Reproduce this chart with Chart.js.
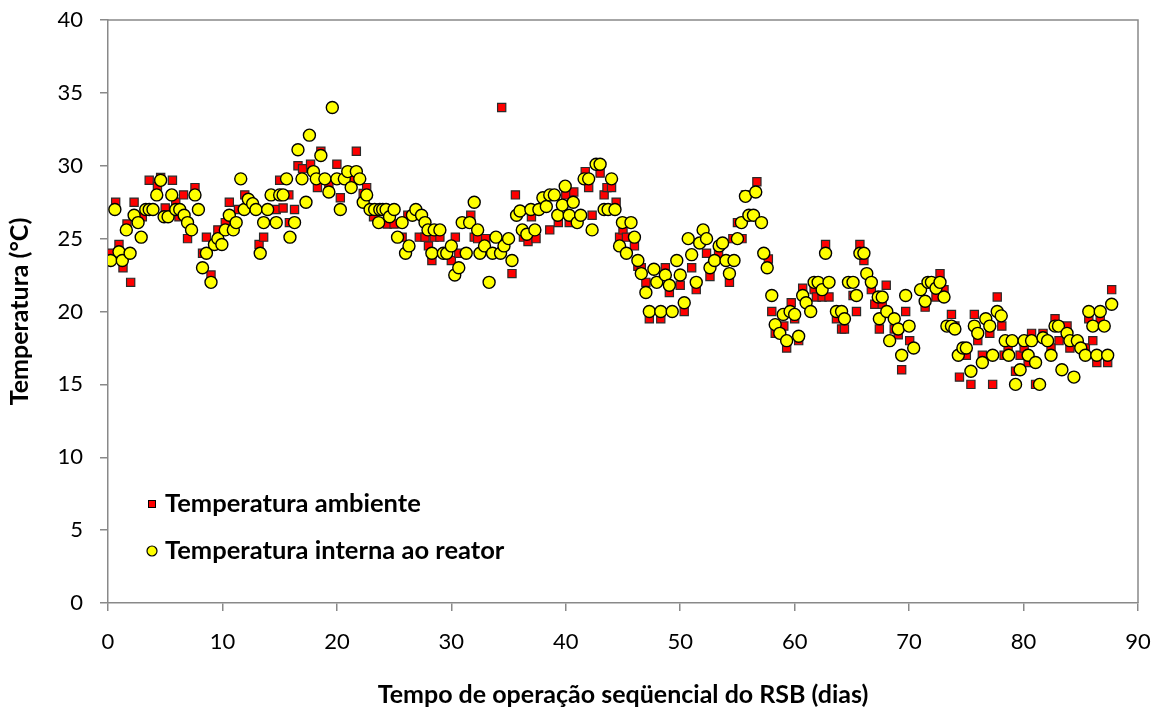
<!DOCTYPE html>
<html lang="pt">
<head>
<meta charset="utf-8">
<title>Temperatura RSB</title>
<script src="https://cdn.jsdelivr.net/npm/chart.js@4.4.1/dist/chart.umd.min.js"></script>
<style>
    html, body { margin: 0; padding: 0; background: #fff; }
    #grafico { display: block; }
</style>
</head>
<body>
<canvas id="grafico" width="1161" height="713"></canvas>
<script>
// Temperatura ambiente (quadrados vermelhos)
const diasAmbiente = [
    0.3, 0.67, 0.96, 1.31, 1.66, 1.98, 2.28, 3.0, 3.6, 4.32,
    4.6, 5.0, 5.63, 5.92, 6.2, 6.6, 6.95, 7.6, 8.26, 8.6,
    9.0, 9.6, 10.25, 10.6, 11.0, 11.4, 11.95, 13.2, 13.6, 14.7,
    15.0, 15.3, 15.8, 15.85, 16.3, 16.6, 17.0, 17.7, 18.3, 18.6,
    19.3, 20.0, 20.3, 21.3, 21.7, 22.3, 22.6, 23.2, 24.4, 25.0,
    25.7, 26.2, 27.2, 27.7, 28.0, 28.3, 28.5, 29.0, 30.0, 30.35,
    30.65, 31.7, 32.0, 32.3, 33.0, 34.4, 35.3, 35.6, 36.3, 36.7,
    37.0, 37.4, 38.6, 39.35, 40.0, 40.3, 40.7, 41.7, 42.0, 42.3,
    43.0, 43.35, 43.6, 44.0, 44.4, 44.7, 45.0, 45.3, 46.0, 46.3,
    46.6, 47.0, 47.3, 48.3, 48.7, 49.05, 50.0, 50.35, 51.0, 51.4,
    52.3, 52.6, 53.35, 54.3, 54.6, 55.0, 55.4, 55.7, 56.7, 57.7,
    58.0, 58.3, 59.05, 59.3, 59.7, 60.0, 60.35, 60.7, 61.7, 61.9,
    62.4, 62.7, 63.0, 63.65, 64.1, 64.35, 65.1, 65.4, 65.7, 66.05,
    66.7, 67.0, 67.4, 67.65, 68.0, 68.7, 69.05, 69.35, 69.7, 70.05,
    71.4, 72.35, 72.7, 73.05, 73.7, 74.0, 74.4, 75.0, 75.4, 75.7,
    76.0, 76.4, 77.05, 77.3, 77.7, 78.1, 78.3, 78.65, 79.3, 79.7,
    80.05, 80.4, 80.7, 81.05, 81.7, 82.4, 82.75, 83.1, 83.8, 84.05,
    85.4, 85.7, 86.05, 86.4, 86.7, 87.35, 87.7
];
const tempAmbiente = [
    24.0, 27.5, 24.6, 23.0, 26.0, 22.0, 27.5, 26.5, 29.0, 28.6,
    29.2, 27.1, 29.0, 27.5, 26.5, 28.0, 25.0, 28.5, 24.0, 25.1,
    22.5, 25.6, 26.1, 27.5, 26.1, 27.0, 28.0, 24.6, 25.1, 27.0,
    29.0, 27.1, 28.0, 26.1, 27.0, 30.0, 29.8, 30.1, 28.5, 31.0,
    28.7, 30.1, 27.8, 29.1, 31.0, 28.1, 28.5, 26.5, 26.0, 26.0,
    25.1, 26.6, 25.1, 25.1, 24.5, 23.5, 25.1, 25.1, 23.5, 25.1,
    24.0, 26.6, 25.1, 25.0, 25.0, 34.0, 22.6, 28.0, 25.1, 24.8,
    26.5, 25.0, 25.6, 26.1, 28.0, 26.1, 28.2, 29.6, 28.5, 26.6,
    29.5, 28.0, 28.5, 28.5, 27.5, 25.1, 25.6, 25.1, 24.5, 23.1,
    23.0, 22.0, 19.5, 19.5, 23.0, 21.3, 21.8, 20.0, 23.0, 21.5,
    24.0, 22.4, 24.0, 22.0, 25.0, 26.1, 25.0, 28.0, 28.9, 23.6,
    20.0, 18.5, 19.0, 17.5, 20.6, 19.5, 18.0, 21.6, 21.5, 21.0,
    21.0, 24.6, 21.0, 19.5, 18.8, 18.8, 21.1, 20.0, 24.6, 23.5,
    21.5, 20.5, 18.8, 20.5, 21.8, 18.8, 18.4, 16.0, 20.0, 18.0,
    20.3, 21.0, 22.6, 21.5, 19.8, 19.0, 15.5, 17.0, 15.0, 19.8,
    18.0, 17.0, 18.5, 15.0, 21.0, 19.0, 17.0, 17.5, 15.9, 17.0,
    17.5, 16.5, 18.5, 15.0, 18.5, 17.5, 19.5, 18.0, 19.0, 17.5,
    17.5, 19.5, 18.0, 16.5, 19.5, 16.5, 21.5
];

// Temperatura interna ao reator (círculos amarelos)
const diasReator = [
    0.24, 0.6, 0.96, 1.25, 1.6, 1.93, 2.28, 2.63, 2.9, 3.3,
    3.6, 3.93, 4.26, 4.6, 4.9, 5.25, 5.57, 5.92, 6.27, 6.65,
    6.95, 7.3, 7.6, 7.9, 8.26, 8.6, 9.0, 9.3, 9.6, 9.95,
    10.25, 10.6, 10.95, 11.2, 11.6, 11.9, 12.26, 12.64, 12.93, 13.3,
    13.6, 13.95, 14.25, 14.7, 15.0, 15.3, 15.6, 15.9, 16.3, 16.6,
    16.95, 17.3, 17.6, 17.95, 18.2, 18.6, 18.95, 19.3, 19.6, 20.0,
    20.3, 20.65, 20.95, 21.25, 21.7, 22.0, 22.3, 22.6, 22.9, 23.3,
    23.65, 23.75, 24.0, 24.3, 24.6, 25.0, 25.3, 25.7, 26.0, 26.3,
    26.6, 26.9, 27.4, 27.7, 27.96, 28.3, 28.5, 29.0, 29.3, 29.6,
    30.0, 30.3, 30.65, 30.95, 31.3, 31.6, 32.0, 32.3, 32.5, 32.9,
    33.3, 33.6, 33.9, 34.3, 34.6, 35.0, 35.3, 35.7, 36.0, 36.2,
    36.6, 36.95, 37.3, 37.65, 38.0, 38.3, 38.6, 39.0, 39.3, 39.7,
    39.95, 40.3, 40.65, 41.0, 41.3, 41.6, 42.0, 42.3, 42.65, 43.0,
    43.35, 43.7, 44.0, 44.3, 44.7, 44.95, 45.3, 45.7, 46.0, 46.3,
    46.6, 47.0, 47.3, 47.7, 47.95, 48.3, 48.7, 49.05, 49.3, 49.7,
    50.0, 50.35, 50.7, 51.0, 51.4, 51.7, 52.0, 52.3, 52.6, 53.0,
    53.4, 53.7, 54.0, 54.3, 54.7, 55.0, 55.35, 55.7, 56.0, 56.4,
    56.6, 57.1, 57.3, 57.6, 58.0, 58.3, 58.7, 59.0, 59.3, 59.6,
    60.0, 60.35, 60.7, 61.0, 61.4, 61.7, 62.05, 62.4, 62.7, 63.0,
    63.65, 64.1, 64.35, 64.7, 65.1, 65.4, 65.7, 66.05, 66.3, 66.7,
    67.3, 67.4, 67.65, 68.05, 68.3, 68.7, 69.05, 69.35, 69.7, 70.0,
    70.4, 71.0, 71.4, 71.65, 71.95, 72.35, 72.7, 73.05, 73.3, 73.7,
    74.0, 74.3, 74.7, 75.0, 75.4, 75.7, 76.0, 76.4, 76.7, 77.05,
    77.3, 77.7, 78.05, 78.4, 78.7, 79.0, 79.3, 79.7, 80.05, 80.4,
    80.7, 81.05, 81.4, 81.7, 82.1, 82.4, 82.75, 83.05, 83.35, 83.8,
    84.05, 84.4, 84.7, 85.0, 85.4, 85.7, 86.05, 86.4, 86.7, 87.05,
    87.35, 87.7
];
const tempReator = [
    23.5, 27.0, 24.1, 23.5, 25.6, 24.0, 26.6, 26.1, 25.1, 27.0,
    27.0, 27.0, 28.0, 29.0, 26.5, 26.5, 28.0, 27.0, 27.0, 26.6,
    26.1, 25.6, 28.0, 27.0, 23.0, 24.0, 22.0, 24.6, 25.0, 24.6,
    25.6, 26.6, 25.6, 26.1, 29.1, 27.0, 27.7, 27.4, 27.0, 24.0,
    26.1, 27.0, 28.0, 26.1, 28.0, 28.0, 29.1, 25.1, 26.1, 31.1,
    29.1, 27.5, 32.1, 29.6, 29.1, 30.7, 29.1, 28.2, 34.0, 29.1,
    27.0, 29.1, 29.6, 28.5, 29.6, 29.1, 27.5, 28.0, 27.0, 27.0,
    26.1, 27.0, 27.0, 27.0, 26.5, 27.0, 25.1, 26.1, 24.0, 24.5,
    26.6, 27.0, 26.6, 26.1, 25.6, 24.0, 25.6, 25.6, 24.0, 24.0,
    24.5, 22.5, 23.0, 26.1, 24.0, 26.1, 27.5, 25.6, 24.0, 24.5,
    22.0, 24.0, 25.1, 24.0, 24.5, 25.0, 23.5, 26.6, 26.9, 25.6,
    25.3, 27.0, 25.6, 27.0, 27.8, 27.2, 28.0, 28.0, 26.6, 27.3,
    28.6, 26.6, 27.5, 26.1, 26.6, 29.1, 29.1, 25.6, 30.1, 30.1,
    27.0, 27.0, 29.1, 27.0, 24.5, 26.1, 24.0, 26.1, 25.1, 23.5,
    22.6, 21.3, 20.0, 22.9, 22.0, 20.0, 22.5, 21.8, 20.0, 23.5,
    22.5, 20.6, 25.0, 23.9, 22.0, 24.7, 25.6, 25.0, 23.0, 23.5,
    24.5, 24.7, 23.5, 22.6, 23.5, 25.0, 26.1, 27.9, 26.6, 26.6,
    28.2, 26.1, 24.0, 23.0, 21.1, 19.1, 18.5, 19.8, 18.0, 20.0,
    19.8, 18.3, 21.1, 20.6, 20.0, 22.0, 22.0, 21.5, 24.0, 22.0,
    20.0, 20.0, 19.5, 22.0, 22.0, 21.1, 24.0, 24.0, 22.6, 22.0,
    21.0, 19.5, 21.0, 20.0, 18.0, 19.5, 18.8, 17.0, 21.1, 19.0,
    17.5, 21.5, 20.7, 22.0, 22.0, 21.6, 22.0, 21.0, 19.0, 19.0,
    18.8, 17.0, 17.5, 17.5, 15.9, 19.0, 18.5, 16.5, 19.5, 19.0,
    17.0, 20.0, 19.7, 18.0, 17.0, 18.0, 15.0, 16.0, 18.0, 17.0,
    18.0, 16.5, 15.0, 18.2, 18.0, 17.0, 19.0, 19.0, 16.0, 18.5,
    18.0, 15.5, 18.0, 17.5, 17.0, 20.0, 19.0, 17.0, 20.0, 19.0,
    17.0, 20.5
];

// Eixos
const xMin = 0, xMax = 90, xPasso = 10;
const yMin = 0, yMax = 40, yPasso = 5;
const nomesSeries = ['Temperatura ambiente', 'Temperatura interna ao reator'];

const fonte = "Lato, 'Liberation Sans', sans-serif";
const corEixo = '#898989';

function pares(xs, ys) {
    return xs.map((x, i) => ({ x: x, y: ys[i] }));
}

// Moldura do gráfico + legenda dentro da área
const molduraLegenda = {
    id: 'molduraLegenda',
    afterDraw(chart) {
        const ctx = chart.ctx;
        const a = chart.chartArea;
        ctx.save();
        ctx.strokeStyle = corEixo;
        ctx.lineWidth = 1.5;
        ctx.beginPath();
        ctx.moveTo(a.left, a.top);
        ctx.lineTo(a.right, a.top);
        ctx.lineTo(a.right, a.bottom);
        ctx.stroke();

        const lx = a.left + 44;
        const ly1 = a.top + 484;
        const ly2 = a.top + 531;
        ctx.lineWidth = 1;
        ctx.strokeStyle = '#000';
        ctx.fillStyle = '#ff0000';
        ctx.fillRect(lx - 3.5, ly1 - 3.5, 7, 7);
        ctx.strokeRect(lx - 3.5, ly1 - 3.5, 7, 7);
        ctx.beginPath();
        ctx.arc(lx, ly2, 5, 0, Math.PI * 2);
        ctx.fillStyle = '#ffff00';
        ctx.fill();
        ctx.lineWidth = 1.2;
        ctx.stroke();

        ctx.fillStyle = '#000';
        ctx.font = 'bold 25.5px ' + fonte;
        ctx.textBaseline = 'middle';
        ctx.textAlign = 'left';
        ctx.fillText(nomesSeries[0], lx + 13, ly1);
        ctx.fillText(nomesSeries[1], lx + 13, ly2);
        ctx.restore();
    }
};

document.addEventListener('DOMContentLoaded', function() {
    const ctx = document.getElementById('grafico').getContext('2d');

    new Chart(ctx, {
        type: 'scatter',
        data: {
            datasets: [{
                label: nomesSeries[0],
                data: pares(diasAmbiente, tempAmbiente),
                pointStyle: 'rect',
                pointRadius: 5.8,
                backgroundColor: '#ff0000',
                borderColor: '#2a2a2a',
                borderWidth: 1.2,
                order: 1
            }, {
                label: nomesSeries[1],
                data: pares(diasReator, tempReator),
                pointStyle: 'circle',
                pointRadius: 6,
                backgroundColor: '#ffff00',
                borderColor: '#000',
                borderWidth: 1.4,
                order: 0
            }]
        },
        options: {
            responsive: false,
            animation: false,
            devicePixelRatio: 1,
            layout: { padding: { top: 20, right: 23, left: 0, bottom: 0 } },
            plugins: {
                legend: { display: false },
                tooltip: { enabled: false }
            },
            scales: {
                x: {
                    type: 'linear',
                    min: xMin,
                    max: xMax,
                    afterFit: function(s) {
                        s.height = 110;
                        s.paddingLeft = 0;
                        s.paddingRight = 0;
                    },
                    ticks: {
                        stepSize: xPasso,
                        color: '#000',
                        padding: 18,
                        font: { family: fonte, size: 22 }
                    },
                    grid: { drawOnChartArea: false, drawTicks: true, tickLength: 8, color: corEixo, lineWidth: 1.5 },
                    border: { display: true, color: corEixo, width: 1.5 },
                    title: {
                        display: true,
                        text: 'Tempo de operação seqüencial do RSB (dias)',
                        color: '#000',
                        font: { family: fonte, size: 25, weight: 'bold' },
                        padding: { top: 0, bottom: 3 }
                    }
                },
                y: {
                    min: yMin,
                    max: yMax,
                    afterFit: function(s) {
                        s.width = 108;
                        s.paddingTop = 0;
                        s.paddingBottom = 0;
                    },
                    ticks: {
                        stepSize: yPasso,
                        color: '#000',
                        padding: 17,
                        font: { family: fonte, size: 22 }
                    },
                    grid: { drawOnChartArea: false, drawTicks: true, tickLength: 8, color: corEixo, lineWidth: 1.5 },
                    border: { display: true, color: corEixo, width: 1.5 },
                    title: {
                        display: true,
                        text: 'Temperatura (°C)',
                        color: '#000',
                        font: { family: fonte, size: 25, weight: 'bold' },
                        padding: { top: 5, bottom: 0 }
                    }
                }
            }
        },
        plugins: [molduraLegenda]
    });
});
</script>
</body>
</html>
